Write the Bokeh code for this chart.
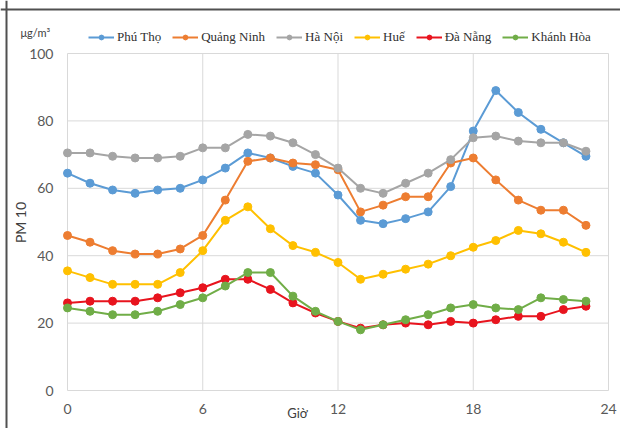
import math
from bokeh.plotting import figure
from bokeh.models import Range1d, FixedTicker, Span
from bokeh.core.properties import value
from bokeh.embed import file_html
from bokeh.resources import INLINE

hours = list(range(24))

phu_tho = [64.5, 61.5, 59.5, 58.5, 59.5, 60, 62.5, 66, 70.5, 69, 66.5, 64.5,
           58, 50.5, 49.5, 51, 53, 60.5, 77, 89, 82.5, 77.5, 73.5, 69.5]
quang_ninh = [46, 44, 41.5, 40.5, 40.5, 42, 46, 56.5, 68, 69, 67.5, 67,
              65.5, 53, 55, 57.5, 57.5, 67.5, 69, 62.5, 56.5, 53.5, 53.5, 49]
ha_noi = [70.5, 70.5, 69.5, 69, 69, 69.5, 72, 72, 76, 75.5, 73.5, 70,
          66, 60, 58.5, 61.5, 64.5, 68.5, 75, 75.5, 74, 73.5, 73.5, 71]
hue = [35.5, 33.5, 31.5, 31.5, 31.5, 35, 41.5, 50.5, 54.5, 48, 43, 41,
       38, 33, 34.5, 36, 37.5, 40, 42.5, 44.5, 47.5, 46.5, 44, 41]
da_nang = [26, 26.5, 26.5, 26.5, 27.5, 29, 30.5, 33, 33, 30, 26, 23,
           20.5, 18.5, 19.5, 20, 19.5, 20.5, 20, 21, 22, 22, 24, 25]
khanh_hoa = [24.5, 23.5, 22.5, 22.5, 23.5, 25.5, 27.5, 31, 35, 35, 28, 23.5,
             20.5, 18, 19.5, 21, 22.5, 24.5, 25.5, 24.5, 24, 27.5, 27, 26.5]

series_names = ["Phú Thọ", "Quảng Ninh", "Hà Nội", "Huế", "Đà Nẵng", "Khánh Hòa"]
series_values = [phu_tho, quang_ninh, ha_noi, hue, da_nang, khanh_hoa]
series_colors = ["#5B9BD5", "#ED7D31", "#A5A5A5", "#FFC000", "#E8141E", "#70AD47"]

x_ticks = [0, 6, 12, 18, 24]
y_ticks = [0, 20, 40, 60, 80, 100]

# layout (pixels inside the figure)
W, H = 620, 428
FX0, FX1 = 67, 608      # screen x of hour 0 and hour 24
FY0, FY1 = 390, 53      # screen y of value 0 and value 100
ppx = (FX1 - FX0) / (x_ticks[-1] - x_ticks[0])
ppy = (FY0 - FY1) / (y_ticks[-1] - y_ticks[0])
x_range = Range1d(-FX0 / ppx, x_ticks[-1] + (W - FX1) / ppx)
y_range = Range1d(-(H - FY0) / ppy, y_ticks[-1] + FY1 / ppy)


def sx(px):
    return (px - FX0) / ppx


def sy(py):
    return (FY0 - py) / ppy


p = figure(width=W, height=H, output_backend="svg", toolbar_location=None,
           x_range=x_range, y_range=y_range,
           min_border_left=0, min_border_right=0, min_border_top=0,
           min_border_bottom=0)
p.background_fill_color = "white"
p.border_fill_color = "white"
p.outline_line_color = None
p.grid.visible = False

GRID = "#D9D9D9"
# plot-area grid and box, from the tick lists
p.segment(x0=x_ticks, y0=[y_ticks[0]] * len(x_ticks), x1=x_ticks,
          y1=[y_ticks[-1]] * len(x_ticks), line_color=GRID, line_width=1)
p.segment(x0=[x_ticks[0]] * len(y_ticks), y0=y_ticks, x1=[x_ticks[-1]] * len(y_ticks),
          y1=y_ticks, line_color=GRID, line_width=1)

# axes fixed at the plot-area edges
xa = p.xaxis[0]
ya = p.yaxis[0]
xa.fixed_location = 0
ya.fixed_location = 0
xa.ticker = FixedTicker(ticks=x_ticks)
ya.ticker = FixedTicker(ticks=y_ticks)
for ax in (xa, ya):
    ax.axis_line_color = None
    ax.major_tick_line_color = None
    ax.minor_tick_line_color = None
    ax.major_tick_out = 0
    ax.major_tick_in = 0
    ax.minor_tick_out = 0
    ax.minor_tick_in = 0
    ax.major_label_text_font = "Lato"
    ax.major_label_text_font_size = "14px"
    ax.major_label_text_color = "#595959"
xa.major_label_standoff = 13
ya.major_label_standoff = 14

for name, vals, col in zip(series_names, series_values, series_colors):
    p.line(hours, vals, line_color=col, line_width=2, legend_label=name)
    p.scatter(hours, vals, size=8, marker="circle", fill_color=col, line_color=col,
              legend_label=name)

legend = p.legend[0]
legend.orientation = "horizontal"
legend.location = (88, H - 45)
legend.label_text_font = "'Liberation Serif', 'Times New Roman', serif"
legend.label_text_font_size = "13px"
legend.label_text_color = "#303030"
legend.glyph_width = 26
legend.glyph_height = 12
legend.label_height = 12
legend.label_standoff = 3
legend.spacing = 11
legend.padding = 0
legend.margin = 0
legend.border_line_color = None
legend.background_fill_alpha = 0

TXT = "#404040"
p.text(x=[sx(20)], y=[sy(38)], text=["μg/m³"],
       text_font=value("Lato"), text_font_size="11px", text_color=TXT,
       text_align="left", text_baseline="bottom")
p.text(x=[sx(297)], y=[sy(412)], text=["Giờ"],
       text_font=value("Lato"), text_font_size="13px", text_color=TXT,
       text_align="center", text_baseline="middle")
p.text(x=[sx(20)], y=[sy(222)], text=["PM 10"], angle=math.pi / 2,
       text_font=value("Lato"), text_font_size="14px", text_color=TXT,
       text_align="center", text_baseline="middle")

# outer frame lines (top and left) of the picture
p.add_layout(Span(location=sy(9), dimension="width", line_color="#505050", line_width=2))
p.add_layout(Span(location=sx(6), dimension="height", line_color="#505050", line_width=2))

open("out.html", "w").write(file_html(p, INLINE))
